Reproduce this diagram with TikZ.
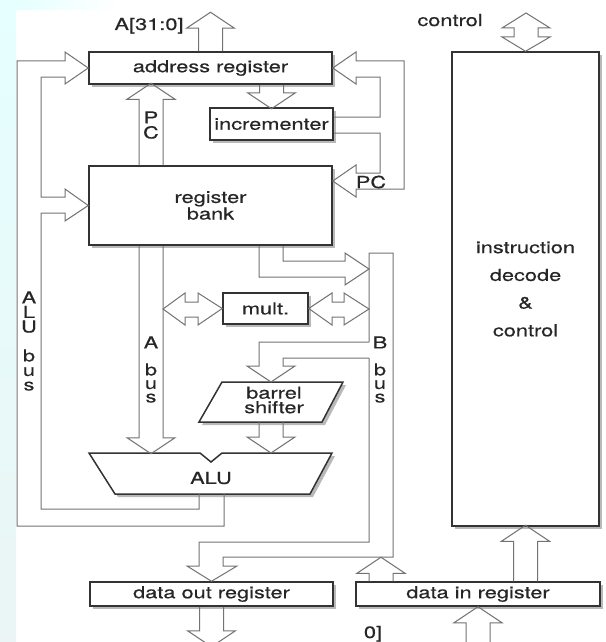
\documentclass[tikz,border=0pt]{standalone}
\usepackage{fontspec}
\setmainfont{TeX Gyre Heros}[FakeStretch=1.32, FakeBold=0.5]
\usetikzlibrary{calc,shadows}

\begin{document}
\begin{tikzpicture}[x=1pt, y=-1pt]
    \useasboundingbox (0,0) rectangle (605,642);

    % Styles for blocks, buses and labels
    \tikzset{
        c_box/.style={draw=black!80, line width=1.5pt, fill=white, inner sep=0pt,
            drop shadow={shadow xshift=3pt, shadow yshift=-3pt, fill=black!30, opacity=0.9}},
        c_bus/.style={draw=black!55, line width=1pt, line join=miter},
        c_txt/.style={font=\fontsize{16.5}{14.5}\selectfont, text=black!85, inner sep=0pt},
        c_stack/.style={c_txt, align=center, anchor=north, font=\fontsize{16.5}{13.5}\selectfont},
        pics/fatup/.style={code={
            \draw[c_bus] (-12,0) -- (-12,{16-#1}) -- (-24,{16-#1}) -- (0,{-#1})
                -- (24,{16-#1}) -- (12,{16-#1}) -- (12,0);
        }},
        pics/fatdown/.style={code={
            \draw[c_bus] (-12,0) -- (-12,{#1-16}) -- (-24,{#1-16}) -- (0,{#1})
                -- (24,{#1-16}) -- (12,{#1-16}) -- (12,0);
        }}
    }

    % Background with the faint margin
    \fill[white] (0,0) rectangle (605,642);
    \shade[top color=cyan!10, middle color=blue!7, bottom color=teal!8] (0,0) rectangle (16,642);
    \shade[left color=cyan!10, right color=white] (16,0) rectangle (120,10);

    % Registers and function blocks
    \node[c_box, c_txt, minimum width=243pt, minimum height=32pt] (addr) at (210.5,68) {address register};
    \node[c_box, c_txt, minimum width=123pt, minimum height=32pt] (inc) at (271.5,124) {incrementer};
    \node[c_box, c_txt, minimum width=243pt, minimum height=79pt, align=center] (bank) at (210.5,205.5) {register\\bank};
    \node[c_box, c_txt, minimum width=85pt, minimum height=31pt] (mult) at (265.5,308.5) {mult.};
    \node[c_box, c_txt, minimum width=243pt, minimum height=24pt] (dout) at (211.5,594) {data out register};
    \node[c_box, c_txt, minimum width=244pt, minimum height=24pt] (din) at (478,594) {data in register};
    \node[c_box, c_txt, minimum width=147pt, minimum height=474pt, align=center,
        font=\fontsize{16.5}{27.7}\selectfont] (idec) at (525.5,289) {instruction\\decode\\\&\\control};

    % Barrel shifter and ALU outlines
    \draw[c_box] (199,422) -- (222,382) -- (343,382) -- (322,422) -- cycle;
    \node[c_txt, align=center] (shift) at (274,400) {barrel\\shifter};
    \draw[c_box] (89,453) -- (200,453) -- (211,462) -- (222,453) -- (332,453) -- (310,494) -- (115,494) -- cycle;
    \node[c_txt] (alu) at (211,478) {ALU};

    % Straight wide arrows
    \pic at (addr.north) {fatup=39};
    \pic at (bank.north -| 151,0) {fatup=82};
    \pic at (addr.south -| inc.north) {fatdown=24};
    \pic at (bank.south -| 151,0) {fatdown=208};
    \pic at (271,422) {fatdown=31};
    \pic at (din.north -| 381,0) {fatup=24};
    \pic at (din.north -| idec.south) {fatup=56};
    \pic at ($(din.south)+(0,40)$) {fatup=40};
    \pic at (dout.south) {fatdown=40};

    % ALU bus back to address register and register bank
    \draw[c_bus] (199,494) -- (199,509) -- (41,509) -- (41,213) -- (65,213) -- (65,221) -- (bank.west)
        -- (65,189) -- (65,197) -- (41,197) -- (41,77) -- (65,77) -- (65,84) -- (addr.west)
        -- (65,52) -- (65,61) -- (17,61) -- (17,526) -- (224,526) -- (224,494);

    % Incrementer loop and PC feedback
    \draw[c_bus] (inc.east |- 0,117) -- (380,117) -- (380,77) -- (356,77) -- (356,84) -- (addr.east)
        -- (356,52) -- (356,61) -- (404,61) -- (404,189) -- (356,189) -- (356,197) -- (bank.east |- 0,181)
        -- (356,165) -- (356,173) -- (380,173) -- (380,133) -- (inc.east |- 0,133);

    % Register bank onto B bus
    \draw[c_bus] (bank.south -| 283,0) -- (283,261) -- (345,261) -- (345,253) -- (369,269)
        -- (345,285) -- (345,277) -- (259,277) -- (bank.south -| 259,0);

    % B bus down to data out register
    \draw[c_bus] (369,342) -- (369,253) -- (393,253) -- (393,557) -- (223,557) -- (223,566) -- (237,566)
        -- (dout.north) -- (187,566) -- (199,566) -- (199,542) -- (369,542) -- (369,358);

    % B bus into barrel shifter
    \draw[c_bus] (369,342) -- (259,342) -- (259,366) -- (247,366) -- (271,382) -- (295,366)
        -- (283,366) -- (283,358) -- (369,358);

    % Multiplier links
    \draw[c_bus] (163,309) -- (185,293) -- (185,302) -- (198,302) -- (198,293) -- (mult.west)
        -- (198,325) -- (198,317) -- (185,317) -- (185,325) -- cycle;
    \draw[c_bus] (mult.east) -- (332,293) -- (332,302) -- (344,302) -- (344,293) -- (369,309)
        -- (344,325) -- (344,317) -- (332,317) -- (332,325) -- cycle;

    % Control port
    \draw[c_bus] (526,13) -- (550,28) -- (538,28) -- (538,37) -- (550,37) -- (idec.north)
        -- (502,37) -- (514,37) -- (514,28) -- (502,28) -- cycle;

    % Labels
    \node[c_txt, anchor=base] (lbladdr) at (149,30) {A[31:0]};
    \node[c_txt, anchor=base] (lblctrl) at (450,26) {control};
    \node[c_txt, anchor=base] (lbldata) at (373,638) {0]};
    \node[c_txt] (lblpc) at (371,182) {PC};
    \node[c_stack, font=\fontsize{16.5}{15}\selectfont] (lpc) at (151,111.2) {P\\C};
    \node[c_stack, font=\fontsize{16.5}{14.5}\selectfont] (lalu) at (29,291.2) {A\\L\\U\\[14.5pt]b\\u\\s};
    \node[c_stack] (labus) at (151,336.2) {A\\[13.5pt]b\\u\\s};
    \node[c_stack] (lbbus) at (380,336.2) {B\\[13.5pt]b\\u\\s};
\end{tikzpicture}
\end{document}
